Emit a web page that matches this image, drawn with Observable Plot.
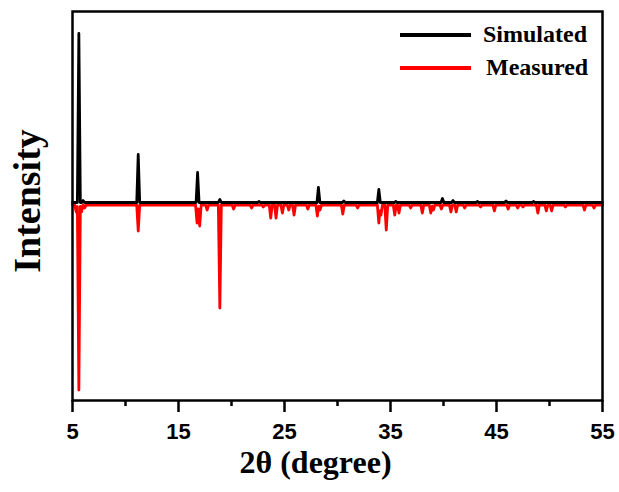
<!DOCTYPE html>
<html><head><meta charset="utf-8">
<script src="https://cdn.jsdelivr.net/npm/d3@7"></script>
<script src="https://cdn.jsdelivr.net/npm/@observablehq/plot@0.6"></script>
<style>
body{margin:0;background:#fff;}
#wrap{position:relative;width:619px;height:492px;overflow:hidden;}
.leg-line{position:absolute;height:4px;}
.leg-text{position:absolute;font-family:"Liberation Serif","Times New Roman",serif;font-weight:bold;font-size:24px;line-height:24px;color:#000;white-space:nowrap;}
</style></head><body>
<div id="wrap"></div>
<script>
// Simulated pattern: peak positions (2θ) and heights above baseline
const simPos = [5.6, 6.0, 11.2, 16.8, 18.9, 22.6, 28.2, 30.6, 33.9, 35.5, 39.9, 40.9, 43.2, 45.9, 48.5];
const simInt = [169, 2, 48, 30, 3, 1, 15, 1.5, 13, 1, 4, 2, 1, 1.5, 1];
const simBase = 0;

// Measured pattern (drawn downward): peak positions and depths
const measPos = [5.35, 5.6, 5.85, 6.15, 11.2, 16.75, 17.0, 17.7, 18.9, 20.2, 21.9, 23.0, 23.7, 24.2, 24.8, 25.4, 25.9, 27.2, 28.1, 28.35, 30.5, 31.9, 33.9, 34.1, 34.6, 35.4, 35.8, 36.9, 38.0, 38.8, 39.05, 39.8, 40.7, 41.2, 42.0, 43.5, 44.8, 46.1, 47.0, 47.5, 48.9, 49.7, 50.2, 51.5, 53.3, 54.2];
const measInt = [-7, -185, -7, -3, -26, -18, -21, -5, -103, -4, -3, -2, -13, -13, -8, -5, -10, -4, -11, -5, -9, -3, -18, -10, -25, -10, -8, -3, -8, -8, -5, -4, -7, -7, -3, -2, -6, -4, -3, -2, -8, -6, -6, -2, -5, -3];
const measBase = -2.5;

const xTicks = [5, 15, 25, 35, 45, 55];
const xMinor = [10, 20, 30, 40, 50];
const seriesNames = ["Simulated", "Measured"];
const seriesColors = ["#000000", "#ff0000"];

const HW = 0.14; // peak half-width at base (degrees)
function profile(pos, ht, base) {
  const pts = [];
  for (let i = 0; i <= 5000; i++) {
    const x = 5 + i / 100;
    let y = base;
    pos.forEach((p, k) => { const d = Math.abs(x - p); if (d < HW) y += ht[k] * (1 - d / HW); });
    pts.push({x, y});
  }
  return pts;
}
const simData = profile(simPos, simInt, simBase);
const measData = profile(measPos, measInt, measBase);

const plot = Plot.plot({
  width: 619,
  height: 492,
  marginLeft: 72,
  marginRight: 17,
  marginTop: 11,
  marginBottom: 92,
  x: {domain: [5, 55]},
  y: {domain: [-198, 191], axis: null},
  marks: [
    Plot.line(measData, {x: "x", y: "y", stroke: seriesColors[1], strokeWidth: 2.8}),
    Plot.line(simData, {x: "x", y: "y", stroke: seriesColors[0], strokeWidth: 2.8}),
    Plot.axisX({ticks: xMinor, tickSize: 6, text: null, strokeWidth: 2.5, label: null}),
    Plot.axisX({ticks: xTicks, tickSize: 12, tickPadding: 11, strokeWidth: 2.5, label: null,
      fontSize: 22, fontWeight: "bold", fontFamily: "Liberation Sans, Arial, sans-serif", fill: "black"}),
    Plot.frame({stroke: "black", strokeWidth: 2.5}),
    Plot.text(["2θ (degree)"], {frameAnchor: "bottom", dx: -22, dy: 72, fontSize: 32, fontWeight: "bold",
      fontFamily: "Liberation Serif, Times New Roman, serif", fill: "black"}),
    Plot.text(["Intensity"], {frameAnchor: "left", textAnchor: "middle", dx: -45, dy: -5, rotate: -90, fontSize: 38, fontWeight: "bold",
      fontFamily: "Liberation Serif, Times New Roman, serif", fill: "black"})
  ]
});
const wrap = document.getElementById("wrap");
wrap.appendChild(plot);

// legend
const legY = [35, 68];
const legTextX = [483, 486];
seriesNames.forEach((name, i) => {
  const l = document.createElement("div");
  l.className = "leg-line";
  l.style.left = "400px"; l.style.width = "71px";
  l.style.top = (legY[i] - 2) + "px";
  l.style.background = seriesColors[i];
  wrap.appendChild(l);
  const t = document.createElement("div");
  t.className = "leg-text";
  t.textContent = name;
  t.style.left = legTextX[i] + "px";
  t.style.top = (legY[i] - 13) + "px";
  wrap.appendChild(t);
});
</script>
</body></html>
